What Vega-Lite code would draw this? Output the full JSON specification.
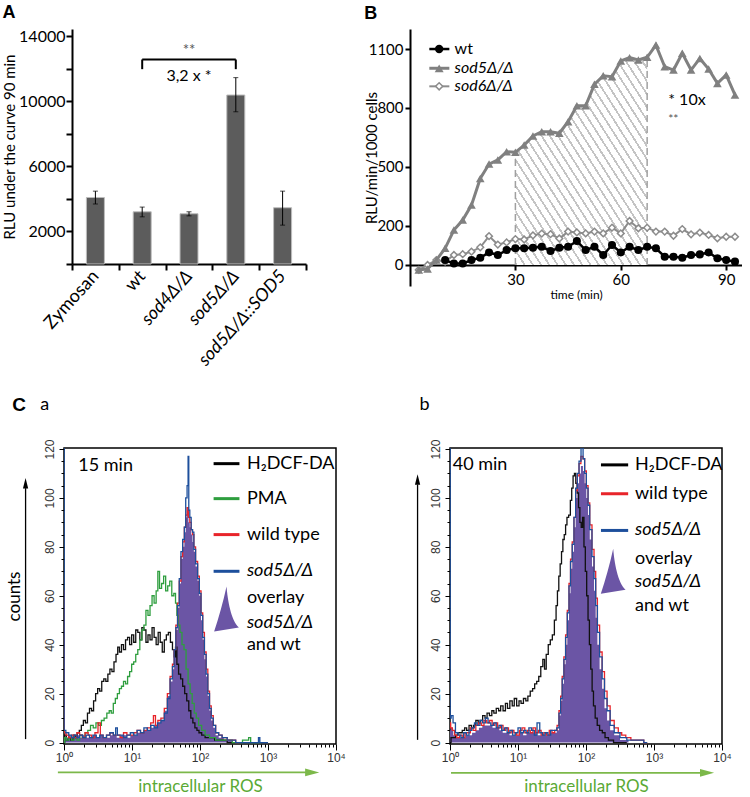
{
"$schema":"https://vega.github.io/schema/vega-lite/v6.json",
"background":"white",
"padding":{"left":2,"top":4,"right":0,"bottom":0},
"config":{"font":"Lato","view":{"stroke":null},"axis":{"grid":false,"labelColor":"black","titleColor":"black","tickColor":"black","domainColor":"black","labelFont":"Lato","titleFont":"Lato","titleFontWeight":"normal","labelFlush":false,"labelOverlap":false},"title":{"font":"Liberation Sans","fontWeight":"bold","fontSize":18,"anchor":"start","frame":"bounds","color":"black"}},
"datasets":{
"bars":[{"cond":"Zymosan","mean":4090,"lo":3690,"hi":4480},{"cond":"wt","mean":3210,"lo":2900,"hi":3500},{"cond":"sod4Δ/Δ","mean":3090,"lo":2960,"hi":3210},{"cond":"sod5Δ/Δ","mean":10390,"lo":9360,"hi":11460},{"cond":"sod5Δ/Δ::SOD5","mean":3460,"lo":2390,"hi":4480}],
"ts":[
{"series":"sod5","t":2.5,"v":-25},{"series":"sod5","t":5,"v":-20},{"series":"sod5","t":7.5,"v":25},{"series":"sod5","t":10,"v":85},{"series":"sod5","t":12.5,"v":178},{"series":"sod5","t":15,"v":229},{"series":"sod5","t":17.5,"v":305},{"series":"sod5","t":20,"v":441},{"series":"sod5","t":22.5,"v":514},{"series":"sod5","t":25,"v":535},{"series":"sod5","t":27.5,"v":577},{"series":"sod5","t":30,"v":574},{"series":"sod5","t":32.5,"v":611},{"series":"sod5","t":35,"v":657},{"series":"sod5","t":37.5,"v":679},{"series":"sod5","t":40,"v":679},{"series":"sod5","t":42.5,"v":671},{"series":"sod5","t":45,"v":730},{"series":"sod5","t":47.5,"v":811},{"series":"sod5","t":50,"v":811},{"series":"sod5","t":52.5,"v":920},{"series":"sod5","t":55,"v":964},{"series":"sod5","t":57.5,"v":959},{"series":"sod5","t":60,"v":1039},{"series":"sod5","t":62.5,"v":1056},{"series":"sod5","t":65,"v":1044},{"series":"sod5","t":67.5,"v":1058},{"series":"sod5","t":70,"v":1120},{"series":"sod5","t":72.5,"v":1010},{"series":"sod5","t":75,"v":993},{"series":"sod5","t":77.5,"v":1078},{"series":"sod5","t":80,"v":993},{"series":"sod5","t":82.5,"v":1052},{"series":"sod5","t":85,"v":998},{"series":"sod5","t":87.5,"v":925},{"series":"sod5","t":90,"v":968},{"series":"sod5","t":92.5,"v":866},
{"series":"sod6","t":2.5,"v":-25},{"series":"sod6","t":5,"v":0},{"series":"sod6","t":7.5,"v":25},{"series":"sod6","t":10,"v":17},{"series":"sod6","t":12.5,"v":51},{"series":"sod6","t":15,"v":55},{"series":"sod6","t":17.5,"v":68},{"series":"sod6","t":20,"v":90},{"series":"sod6","t":22.5,"v":147},{"series":"sod6","t":25,"v":104},{"series":"sod6","t":27.5,"v":115},{"series":"sod6","t":30,"v":132},{"series":"sod6","t":32.5,"v":130},{"series":"sod6","t":35,"v":151},{"series":"sod6","t":37.5,"v":160},{"series":"sod6","t":40,"v":157},{"series":"sod6","t":42.5,"v":135},{"series":"sod6","t":45,"v":170},{"series":"sod6","t":47.5,"v":166},{"series":"sod6","t":50,"v":161},{"series":"sod6","t":52.5,"v":170},{"series":"sod6","t":55,"v":161},{"series":"sod6","t":57.5,"v":190},{"series":"sod6","t":60,"v":161},{"series":"sod6","t":62.5,"v":224},{"series":"sod6","t":65,"v":187},{"series":"sod6","t":67.5,"v":190},{"series":"sod6","t":70,"v":170},{"series":"sod6","t":72.5,"v":170},{"series":"sod6","t":75,"v":149},{"series":"sod6","t":77.5,"v":183},{"series":"sod6","t":80,"v":156},{"series":"sod6","t":82.5,"v":165},{"series":"sod6","t":85,"v":153},{"series":"sod6","t":87.5,"v":136},{"series":"sod6","t":90,"v":144},{"series":"sod6","t":92.5,"v":144},
{"series":"wt","t":10,"v":25},{"series":"wt","t":12.5,"v":8},{"series":"wt","t":15,"v":8},{"series":"wt","t":17.5,"v":25},{"series":"wt","t":20,"v":37},{"series":"wt","t":22.5,"v":64},{"series":"wt","t":25,"v":51},{"series":"wt","t":27.5,"v":76},{"series":"wt","t":30,"v":85},{"series":"wt","t":32.5,"v":85},{"series":"wt","t":35,"v":88},{"series":"wt","t":37.5,"v":93},{"series":"wt","t":40,"v":71},{"series":"wt","t":42.5,"v":88},{"series":"wt","t":45,"v":93},{"series":"wt","t":47.5,"v":122},{"series":"wt","t":50,"v":76},{"series":"wt","t":52.5,"v":93},{"series":"wt","t":55,"v":51},{"series":"wt","t":57.5,"v":102},{"series":"wt","t":60,"v":64},{"series":"wt","t":62.5,"v":93},{"series":"wt","t":65,"v":76},{"series":"wt","t":67.5,"v":93},{"series":"wt","t":70,"v":85},{"series":"wt","t":72.5,"v":42},{"series":"wt","t":75,"v":42},{"series":"wt","t":77.5,"v":37},{"series":"wt","t":80,"v":51},{"series":"wt","t":82.5,"v":54},{"series":"wt","t":85,"v":64},{"series":"wt","t":87.5,"v":34},{"series":"wt","t":90,"v":25},{"series":"wt","t":92.5,"v":17}
],
"aH":[{"L":0,"c":0},{"L":0.02,"c":3},{"L":0.05,"c":1},{"L":0.08,"c":2},{"L":0.12,"c":1},{"L":0.15,"c":3},{"L":0.18,"c":2},{"L":0.21,"c":4},{"L":0.24,"c":5},{"L":0.27,"c":7},{"L":0.3,"c":9},{"L":0.33,"c":8},{"L":0.36,"c":12},{"L":0.39,"c":14},{"L":0.42,"c":13},{"L":0.45,"c":17},{"L":0.48,"c":20},{"L":0.51,"c":22},{"L":0.54,"c":21},{"L":0.57,"c":25},{"L":0.6,"c":26},{"L":0.63,"c":25},{"L":0.66,"c":28},{"L":0.69,"c":30},{"L":0.72,"c":29},{"L":0.75,"c":33},{"L":0.78,"c":36},{"L":0.8,"c":39},{"L":0.83,"c":37},{"L":0.86,"c":40},{"L":0.89,"c":38},{"L":0.92,"c":42},{"L":0.95,"c":43},{"L":0.98,"c":40},{"L":1.01,"c":44},{"L":1.04,"c":41},{"L":1.07,"c":46},{"L":1.1,"c":45},{"L":1.13,"c":42},{"L":1.16,"c":47},{"L":1.19,"c":46},{"L":1.22,"c":41},{"L":1.25,"c":44},{"L":1.28,"c":42},{"L":1.31,"c":47},{"L":1.34,"c":43},{"L":1.37,"c":40},{"L":1.4,"c":45},{"L":1.43,"c":41},{"L":1.46,"c":37},{"L":1.49,"c":42},{"L":1.52,"c":44},{"L":1.55,"c":45},{"L":1.58,"c":41},{"L":1.61,"c":38},{"L":1.63,"c":35},{"L":1.65,"c":39},{"L":1.67,"c":32},{"L":1.7,"c":28},{"L":1.73,"c":26},{"L":1.76,"c":23},{"L":1.79,"c":20},{"L":1.82,"c":17},{"L":1.85,"c":13},{"L":1.88,"c":10},{"L":1.91,"c":8},{"L":1.94,"c":6},{"L":1.97,"c":5},{"L":2,"c":4},{"L":2.05,"c":3},{"L":2.1,"c":2},{"L":2.18,"c":2},{"L":2.25,"c":1},{"L":2.35,"c":1},{"L":2.45,"c":0},{"L":2.6,"c":0}],
"aP":[{"L":0,"c":0},{"L":0.02,"c":2},{"L":0.05,"c":1},{"L":0.09,"c":2},{"L":0.13,"c":1},{"L":0.17,"c":2},{"L":0.21,"c":1},{"L":0.25,"c":3},{"L":0.29,"c":2},{"L":0.33,"c":4},{"L":0.37,"c":5},{"L":0.41,"c":7},{"L":0.45,"c":6},{"L":0.49,"c":8},{"L":0.53,"c":7},{"L":0.57,"c":9},{"L":0.61,"c":10},{"L":0.65,"c":12},{"L":0.68,"c":13},{"L":0.71,"c":12},{"L":0.74,"c":16},{"L":0.77,"c":18},{"L":0.8,"c":20},{"L":0.83,"c":22},{"L":0.86,"c":23},{"L":0.89,"c":25},{"L":0.92,"c":24},{"L":0.95,"c":27},{"L":0.98,"c":29},{"L":1.01,"c":32},{"L":1.04,"c":33},{"L":1.07,"c":36},{"L":1.1,"c":38},{"L":1.13,"c":42},{"L":1.16,"c":46},{"L":1.19,"c":48},{"L":1.22,"c":54},{"L":1.25,"c":52},{"L":1.28,"c":56},{"L":1.31,"c":60},{"L":1.34,"c":57},{"L":1.37,"c":62},{"L":1.39,"c":70},{"L":1.42,"c":63},{"L":1.45,"c":65},{"L":1.48,"c":68},{"L":1.51,"c":62},{"L":1.54,"c":64},{"L":1.57,"c":66},{"L":1.6,"c":60},{"L":1.63,"c":61},{"L":1.65,"c":57},{"L":1.67,"c":52},{"L":1.69,"c":48},{"L":1.72,"c":45},{"L":1.75,"c":40},{"L":1.78,"c":38},{"L":1.81,"c":30},{"L":1.84,"c":24},{"L":1.87,"c":20},{"L":1.9,"c":16},{"L":1.93,"c":12},{"L":1.96,"c":10},{"L":2,"c":7},{"L":2.05,"c":5},{"L":2.1,"c":3},{"L":2.18,"c":2},{"L":2.28,"c":1},{"L":2.4,"c":1},{"L":2.55,"c":0},{"L":2.7,"c":1},{"L":2.73,"c":2},{"L":2.76,"c":0},{"L":2.9,"c":0}],
"aO":[{"L":0,"c":3},{"L":0.04,"c":2},{"L":0.08,"c":3},{"L":0.12,"c":2},{"L":0.16,"c":2},{"L":0.2,"c":3},{"L":0.25,"c":2},{"L":0.3,"c":3},{"L":0.35,"c":2},{"L":0.4,"c":2},{"L":0.45,"c":3},{"L":0.5,"c":2},{"L":0.55,"c":3},{"L":0.6,"c":2},{"L":0.65,"c":2},{"L":0.7,"c":3},{"L":0.75,"c":3},{"L":0.8,"c":2},{"L":0.85,"c":3},{"L":0.9,"c":3},{"L":0.95,"c":2},{"L":1,"c":3},{"L":1.05,"c":3},{"L":1.1,"c":4},{"L":1.15,"c":4},{"L":1.2,"c":5},{"L":1.25,"c":5},{"L":1.3,"c":6},{"L":1.35,"c":7},{"L":1.4,"c":8},{"L":1.45,"c":9},{"L":1.5,"c":13},{"L":1.54,"c":19},{"L":1.58,"c":25},{"L":1.61,"c":30},{"L":1.63,"c":37},{"L":1.66,"c":46},{"L":1.68,"c":55},{"L":1.71,"c":65},{"L":1.73,"c":75},{"L":1.76,"c":80},{"L":1.78,"c":86},{"L":1.8,"c":92},{"L":1.82,"c":95},{"L":1.84,"c":90},{"L":1.86,"c":88},{"L":1.88,"c":85},{"L":1.9,"c":82},{"L":1.92,"c":78},{"L":1.95,"c":72},{"L":1.98,"c":66},{"L":2,"c":60},{"L":2.03,"c":50},{"L":2.05,"c":42},{"L":2.08,"c":34},{"L":2.1,"c":27},{"L":2.13,"c":19},{"L":2.15,"c":13},{"L":2.18,"c":9},{"L":2.21,"c":6},{"L":2.25,"c":3},{"L":2.3,"c":2},{"L":2.4,"c":1},{"L":2.55,"c":0}],
"aW":[{"L":0,"c":62},{"L":0.01,"c":4},{"L":0.05,"c":3},{"L":0.09,"c":2},{"L":0.13,"c":3},{"L":0.17,"c":2},{"L":0.21,"c":4},{"L":0.25,"c":3},{"L":0.29,"c":2},{"L":0.33,"c":4},{"L":0.38,"c":3},{"L":0.43,"c":2},{"L":0.48,"c":4},{"L":0.52,"c":8},{"L":0.55,"c":3},{"L":0.6,"c":2},{"L":0.65,"c":3},{"L":0.7,"c":4},{"L":0.75,"c":3},{"L":0.8,"c":3},{"L":0.85,"c":2},{"L":0.9,"c":4},{"L":0.95,"c":3},{"L":1,"c":3},{"L":1.05,"c":4},{"L":1.1,"c":5},{"L":1.15,"c":4},{"L":1.2,"c":5},{"L":1.25,"c":6},{"L":1.3,"c":8},{"L":1.33,"c":11},{"L":1.36,"c":7},{"L":1.4,"c":9},{"L":1.45,"c":10},{"L":1.5,"c":14},{"L":1.54,"c":20},{"L":1.58,"c":27},{"L":1.61,"c":32},{"L":1.63,"c":38},{"L":1.66,"c":48},{"L":1.68,"c":57},{"L":1.71,"c":66},{"L":1.73,"c":76},{"L":1.76,"c":82},{"L":1.78,"c":88},{"L":1.8,"c":93},{"L":1.82,"c":96},{"L":1.84,"c":92},{"L":1.86,"c":90},{"L":1.88,"c":87},{"L":1.9,"c":85},{"L":1.92,"c":80},{"L":1.95,"c":74},{"L":1.98,"c":68},{"L":2,"c":62},{"L":2.03,"c":53},{"L":2.05,"c":45},{"L":2.08,"c":37},{"L":2.1,"c":30},{"L":2.13,"c":21},{"L":2.15,"c":15},{"L":2.18,"c":11},{"L":2.21,"c":7},{"L":2.25,"c":4},{"L":2.3,"c":3},{"L":2.35,"c":2},{"L":2.45,"c":1},{"L":2.6,"c":0}],
"aS":[{"L":0,"c":130},{"L":0.005,"c":5},{"L":0.05,"c":4},{"L":0.09,"c":3},{"L":0.13,"c":2},{"L":0.17,"c":3},{"L":0.21,"c":2},{"L":0.25,"c":3},{"L":0.3,"c":2},{"L":0.35,"c":3},{"L":0.4,"c":2},{"L":0.45,"c":3},{"L":0.5,"c":2},{"L":0.55,"c":3},{"L":0.6,"c":2},{"L":0.65,"c":3},{"L":0.7,"c":4},{"L":0.75,"c":3},{"L":0.77,"c":6},{"L":0.8,"c":3},{"L":0.85,"c":3},{"L":0.9,"c":2},{"L":0.95,"c":3},{"L":1,"c":4},{"L":1.05,"c":3},{"L":1.1,"c":5},{"L":1.15,"c":4},{"L":1.2,"c":6},{"L":1.25,"c":5},{"L":1.3,"c":7},{"L":1.35,"c":6},{"L":1.4,"c":8},{"L":1.45,"c":9},{"L":1.5,"c":12},{"L":1.54,"c":18},{"L":1.58,"c":26},{"L":1.61,"c":31},{"L":1.63,"c":38},{"L":1.66,"c":47},{"L":1.68,"c":56},{"L":1.71,"c":67},{"L":1.73,"c":78},{"L":1.76,"c":83},{"L":1.78,"c":88},{"L":1.8,"c":100},{"L":1.82,"c":105},{"L":1.83,"c":117},{"L":1.84,"c":95},{"L":1.86,"c":92},{"L":1.88,"c":87},{"L":1.9,"c":86},{"L":1.92,"c":79},{"L":1.95,"c":73},{"L":1.98,"c":67},{"L":2,"c":61},{"L":2.03,"c":52},{"L":2.05,"c":43},{"L":2.08,"c":36},{"L":2.1,"c":28},{"L":2.13,"c":20},{"L":2.15,"c":14},{"L":2.18,"c":10},{"L":2.21,"c":7},{"L":2.25,"c":4},{"L":2.3,"c":3},{"L":2.35,"c":2},{"L":2.45,"c":1},{"L":2.6,"c":0},{"L":2.85,"c":0},{"L":2.87,"c":2},{"L":2.89,"c":0},{"L":3,"c":0}],
"bH":[{"L":0,"c":0},{"L":0.03,"c":2},{"L":0.065,"c":2},{"L":0.1,"c":3},{"L":0.13,"c":4},{"L":0.16,"c":4},{"L":0.2,"c":5},{"L":0.23,"c":6},{"L":0.26,"c":5},{"L":0.3,"c":7},{"L":0.33,"c":6},{"L":0.36,"c":7},{"L":0.4,"c":9},{"L":0.43,"c":8},{"L":0.46,"c":9},{"L":0.5,"c":11},{"L":0.53,"c":10},{"L":0.56,"c":12},{"L":0.6,"c":11},{"L":0.63,"c":13},{"L":0.66,"c":12},{"L":0.7,"c":14},{"L":0.73,"c":13},{"L":0.76,"c":15},{"L":0.8,"c":13},{"L":0.83,"c":16},{"L":0.86,"c":14},{"L":0.9,"c":17},{"L":0.93,"c":15},{"L":0.96,"c":18},{"L":1,"c":15},{"L":1.03,"c":17},{"L":1.06,"c":16},{"L":1.1,"c":18},{"L":1.13,"c":17},{"L":1.16,"c":19},{"L":1.2,"c":21},{"L":1.23,"c":22},{"L":1.26,"c":24},{"L":1.29,"c":25},{"L":1.32,"c":27},{"L":1.35,"c":31},{"L":1.38,"c":34},{"L":1.4,"c":30},{"L":1.43,"c":36},{"L":1.46,"c":40},{"L":1.49,"c":42},{"L":1.52,"c":44},{"L":1.55,"c":50},{"L":1.57,"c":56},{"L":1.59,"c":62},{"L":1.61,"c":68},{"L":1.63,"c":73},{"L":1.65,"c":78},{"L":1.67,"c":83},{"L":1.69,"c":85},{"L":1.71,"c":89},{"L":1.73,"c":92},{"L":1.76,"c":93},{"L":1.78,"c":99},{"L":1.8,"c":104},{"L":1.82,"c":109},{"L":1.84,"c":110},{"L":1.86,"c":106},{"L":1.88,"c":102},{"L":1.9,"c":96},{"L":1.92,"c":90},{"L":1.94,"c":88},{"L":1.96,"c":92},{"L":1.98,"c":80},{"L":2,"c":70},{"L":2.02,"c":60},{"L":2.04,"c":50},{"L":2.06,"c":40},{"L":2.08,"c":30},{"L":2.1,"c":21},{"L":2.12,"c":15},{"L":2.15,"c":10},{"L":2.18,"c":7},{"L":2.22,"c":5},{"L":2.26,"c":4},{"L":2.3,"c":2},{"L":2.36,"c":1},{"L":2.45,"c":0},{"L":2.6,"c":0}],
"bO":[{"L":0,"c":5},{"L":0.03,"c":6},{"L":0.06,"c":3},{"L":0.1,"c":2},{"L":0.15,"c":2},{"L":0.2,"c":2},{"L":0.25,"c":3},{"L":0.3,"c":3},{"L":0.35,"c":4},{"L":0.4,"c":5},{"L":0.45,"c":6},{"L":0.5,"c":7},{"L":0.55,"c":7},{"L":0.6,"c":7},{"L":0.65,"c":6},{"L":0.7,"c":6},{"L":0.75,"c":5},{"L":0.8,"c":4},{"L":0.85,"c":4},{"L":0.9,"c":3},{"L":0.95,"c":3},{"L":1,"c":3},{"L":1.05,"c":4},{"L":1.1,"c":3},{"L":1.15,"c":4},{"L":1.2,"c":4},{"L":1.25,"c":4},{"L":1.3,"c":3},{"L":1.35,"c":3},{"L":1.4,"c":3},{"L":1.45,"c":3},{"L":1.5,"c":4},{"L":1.55,"c":4},{"L":1.59,"c":5},{"L":1.615,"c":11},{"L":1.64,"c":17},{"L":1.66,"c":24},{"L":1.69,"c":32},{"L":1.71,"c":40},{"L":1.74,"c":50},{"L":1.76,"c":61},{"L":1.785,"c":71},{"L":1.81,"c":78},{"L":1.836,"c":88},{"L":1.86,"c":100},{"L":1.885,"c":106},{"L":1.91,"c":110},{"L":1.94,"c":113},{"L":1.97,"c":111},{"L":1.99,"c":106},{"L":2.02,"c":100},{"L":2.04,"c":93},{"L":2.07,"c":83},{"L":2.106,"c":72},{"L":2.13,"c":62},{"L":2.155,"c":51},{"L":2.18,"c":40},{"L":2.22,"c":30},{"L":2.254,"c":22},{"L":2.29,"c":14},{"L":2.33,"c":9},{"L":2.38,"c":5},{"L":2.45,"c":3},{"L":2.55,"c":1},{"L":2.7,"c":0}],
"bW":[{"L":0,"c":8},{"L":0.02,"c":6},{"L":0.05,"c":5},{"L":0.08,"c":3},{"L":0.12,"c":2},{"L":0.16,"c":3},{"L":0.2,"c":2},{"L":0.24,"c":4},{"L":0.28,"c":4},{"L":0.32,"c":6},{"L":0.36,"c":5},{"L":0.4,"c":7},{"L":0.44,"c":8},{"L":0.48,"c":7},{"L":0.52,"c":9},{"L":0.56,"c":8},{"L":0.6,"c":9},{"L":0.64,"c":7},{"L":0.68,"c":8},{"L":0.72,"c":6},{"L":0.76,"c":7},{"L":0.8,"c":5},{"L":0.84,"c":6},{"L":0.88,"c":4},{"L":0.92,"c":5},{"L":0.96,"c":4},{"L":1,"c":3},{"L":1.04,"c":5},{"L":1.08,"c":6},{"L":1.12,"c":4},{"L":1.16,"c":5},{"L":1.2,"c":4},{"L":1.24,"c":6},{"L":1.28,"c":4},{"L":1.32,"c":5},{"L":1.36,"c":3},{"L":1.4,"c":4},{"L":1.44,"c":3},{"L":1.48,"c":5},{"L":1.52,"c":4},{"L":1.56,"c":5},{"L":1.59,"c":7},{"L":1.615,"c":13},{"L":1.64,"c":19},{"L":1.66,"c":27},{"L":1.69,"c":35},{"L":1.71,"c":44},{"L":1.74,"c":54},{"L":1.76,"c":65},{"L":1.785,"c":75},{"L":1.81,"c":82},{"L":1.836,"c":92},{"L":1.86,"c":103},{"L":1.885,"c":109},{"L":1.91,"c":114},{"L":1.94,"c":117},{"L":1.97,"c":116},{"L":1.99,"c":111},{"L":2.02,"c":105},{"L":2.04,"c":98},{"L":2.07,"c":89},{"L":2.106,"c":79},{"L":2.13,"c":70},{"L":2.155,"c":59},{"L":2.18,"c":48},{"L":2.22,"c":37},{"L":2.254,"c":29},{"L":2.29,"c":21},{"L":2.33,"c":15},{"L":2.38,"c":9},{"L":2.45,"c":6},{"L":2.5,"c":4},{"L":2.55,"c":3},{"L":2.62,"c":2},{"L":2.7,"c":1},{"L":2.8,"c":1},{"L":2.9,"c":0}],
"bS":[{"L":0,"c":130},{"L":0.005,"c":10},{"L":0.03,"c":11},{"L":0.06,"c":8},{"L":0.1,"c":4},{"L":0.14,"c":3},{"L":0.18,"c":2},{"L":0.22,"c":4},{"L":0.26,"c":3},{"L":0.3,"c":5},{"L":0.34,"c":6},{"L":0.38,"c":8},{"L":0.42,"c":7},{"L":0.46,"c":9},{"L":0.5,"c":8},{"L":0.54,"c":10},{"L":0.58,"c":8},{"L":0.62,"c":7},{"L":0.66,"c":8},{"L":0.7,"c":6},{"L":0.74,"c":7},{"L":0.78,"c":5},{"L":0.82,"c":6},{"L":0.86,"c":4},{"L":0.9,"c":5},{"L":0.94,"c":3},{"L":0.98,"c":4},{"L":1.02,"c":6},{"L":1.06,"c":4},{"L":1.1,"c":5},{"L":1.14,"c":4},{"L":1.18,"c":6},{"L":1.22,"c":5},{"L":1.26,"c":3},{"L":1.3,"c":8},{"L":1.34,"c":4},{"L":1.38,"c":3},{"L":1.42,"c":4},{"L":1.46,"c":3},{"L":1.5,"c":5},{"L":1.55,"c":5},{"L":1.59,"c":6},{"L":1.615,"c":12},{"L":1.64,"c":18},{"L":1.66,"c":26},{"L":1.69,"c":34},{"L":1.71,"c":43},{"L":1.74,"c":53},{"L":1.76,"c":64},{"L":1.785,"c":74},{"L":1.81,"c":81},{"L":1.836,"c":92},{"L":1.86,"c":104},{"L":1.885,"c":110},{"L":1.91,"c":115},{"L":1.944,"c":121},{"L":1.97,"c":116},{"L":1.99,"c":110},{"L":2.02,"c":104},{"L":2.04,"c":97},{"L":2.07,"c":87},{"L":2.106,"c":76},{"L":2.13,"c":67},{"L":2.155,"c":56},{"L":2.18,"c":45},{"L":2.22,"c":35},{"L":2.254,"c":26},{"L":2.29,"c":18},{"L":2.33,"c":13},{"L":2.38,"c":7},{"L":2.45,"c":4},{"L":2.55,"c":2},{"L":2.65,"c":1},{"L":2.8,"c":1},{"L":2.9,"c":0}]
},
"columns":1,
"align":"none",
"spacing":26,
"concat":[
{"spacing":57,"hconcat":[
{"title":{"text":"A","offset":6},"width":242,"height":235,
"layer":[
{"data":{"name":"bars"},"mark":{"type":"bar","size":18,"color":"#5c5c5c","stroke":"#bdbdbd","strokeWidth":1},
"encoding":{"x":{"field":"cond","type":"nominal","sort":null,"scale":{"domain":["Zymosan","wt","sod4Δ/Δ","sod5Δ/Δ","sod5Δ/Δ::SOD5"],"range":[8,242],"paddingInner":0,"paddingOuter":0},"axis":{"title":null,"labelAngle":-48,"labelFontSize":18,"labelOverlap":false,"tickBand":"extent","tickSize":6,"tickWidth":2,"domainWidth":2,"labelPadding":3,"labelFontStyle":{"condition":{"test":"indexof(datum.label,'sod')>=0","value":"italic"},"value":"normal"}}},
"y":{"field":"mean","type":"quantitative","scale":{"domain":[0,14450],"nice":false},"axis":{"title":"RLU under the curve 90 min","titleFontSize":15,"titlePadding":1,"offset":-8,"values":[0,2000,4000,6000,8000,10000,12000,14000],"tickCount":100,"format":"d","labelOverlap":false,"labelExpr":"datum.value % 4000 == 2000 ? datum.label : ''","labelFontSize":16,"tickSize":6,"tickWidth":2,"domainWidth":2,"labelPadding":1}}}},
{"data":{"name":"bars"},"mark":{"type":"rule","color":"black","strokeWidth":1},"encoding":{"x":{"field":"cond","type":"nominal","sort":null},"y":{"field":"lo","type":"quantitative"},"y2":{"field":"hi"}}},
{"data":{"name":"bars"},"mark":{"type":"tick","color":"black","thickness":1,"size":5},"encoding":{"x":{"field":"cond","type":"nominal","sort":null},"y":{"field":"lo","type":"quantitative"}}},
{"data":{"name":"bars"},"mark":{"type":"tick","color":"black","thickness":1,"size":5},"encoding":{"x":{"field":"cond","type":"nominal","sort":null},"y":{"field":"hi","type":"quantitative"}}},
{"data":{"values":[{}]},"mark":{"type":"rule","color":"black","strokeWidth":2},"encoding":{"x":{"datum":"wt","type":"nominal"},"x2":{"datum":"sod5Δ/Δ"},"y":{"datum":12575,"type":"quantitative"}}},
{"data":{"values":[{}]},"mark":{"type":"rule","color":"black","strokeWidth":2},"encoding":{"x":{"datum":"wt","type":"nominal"},"y":{"datum":11980,"type":"quantitative"},"y2":{"datum":12575}}},
{"data":{"values":[{}]},"mark":{"type":"rule","color":"black","strokeWidth":2},"encoding":{"x":{"datum":"sod5Δ/Δ","type":"nominal"},"y":{"datum":11980,"type":"quantitative"},"y2":{"datum":12575}}},
{"data":{"values":[{}]},"mark":{"type":"text","fontSize":15,"color":"#555555","baseline":"middle"},"encoding":{"x":{"datum":"sod4Δ/Δ","type":"nominal"},"y":{"datum":13150,"type":"quantitative"},"text":{"value":"**"}}},
{"data":{"values":[{}]},"mark":{"type":"text","fontSize":16,"color":"black","baseline":"middle"},"encoding":{"x":{"datum":"sod4Δ/Δ","type":"nominal"},"y":{"datum":11590,"type":"quantitative"},"text":{"value":"3,2 x *"}}}
]},
{"title":{"text":"B","offset":6},"width":332,"height":257,
"layer":[
{"data":{"name":"ts"},"transform":[{"filter":"datum.series == 'sod5' && datum.t >= 30 && datum.t <= 67.5"}],
"mark":{"type":"area","color":{"gradient":"linear","x1":0,"y1":1,"x2":1,"y2":0,"stops":[
{"offset":0,"color":"#c4c4c4"},{"offset":0.008,"color":"#c4c4c4"},{"offset":0.008,"color":"#ffffff"},
{"offset":0.03125,"color":"#ffffff"},{"offset":0.03125,"color":"#c4c4c4"},{"offset":0.03925,"color":"#c4c4c4"},{"offset":0.03925,"color":"#ffffff"},
{"offset":0.0625,"color":"#ffffff"},{"offset":0.0625,"color":"#c4c4c4"},{"offset":0.0705,"color":"#c4c4c4"},{"offset":0.0705,"color":"#ffffff"},
{"offset":0.09375,"color":"#ffffff"},{"offset":0.09375,"color":"#c4c4c4"},{"offset":0.10175,"color":"#c4c4c4"},{"offset":0.10175,"color":"#ffffff"},
{"offset":0.125,"color":"#ffffff"},{"offset":0.125,"color":"#c4c4c4"},{"offset":0.133,"color":"#c4c4c4"},{"offset":0.133,"color":"#ffffff"},
{"offset":0.15625,"color":"#ffffff"},{"offset":0.15625,"color":"#c4c4c4"},{"offset":0.16425,"color":"#c4c4c4"},{"offset":0.16425,"color":"#ffffff"},
{"offset":0.1875,"color":"#ffffff"},{"offset":0.1875,"color":"#c4c4c4"},{"offset":0.1955,"color":"#c4c4c4"},{"offset":0.1955,"color":"#ffffff"},
{"offset":0.21875,"color":"#ffffff"},{"offset":0.21875,"color":"#c4c4c4"},{"offset":0.22675,"color":"#c4c4c4"},{"offset":0.22675,"color":"#ffffff"},
{"offset":0.25,"color":"#ffffff"},{"offset":0.25,"color":"#c4c4c4"},{"offset":0.258,"color":"#c4c4c4"},{"offset":0.258,"color":"#ffffff"},
{"offset":0.28125,"color":"#ffffff"},{"offset":0.28125,"color":"#c4c4c4"},{"offset":0.28925,"color":"#c4c4c4"},{"offset":0.28925,"color":"#ffffff"},
{"offset":0.3125,"color":"#ffffff"},{"offset":0.3125,"color":"#c4c4c4"},{"offset":0.3205,"color":"#c4c4c4"},{"offset":0.3205,"color":"#ffffff"},
{"offset":0.34375,"color":"#ffffff"},{"offset":0.34375,"color":"#c4c4c4"},{"offset":0.35175,"color":"#c4c4c4"},{"offset":0.35175,"color":"#ffffff"},
{"offset":0.375,"color":"#ffffff"},{"offset":0.375,"color":"#c4c4c4"},{"offset":0.383,"color":"#c4c4c4"},{"offset":0.383,"color":"#ffffff"},
{"offset":0.40625,"color":"#ffffff"},{"offset":0.40625,"color":"#c4c4c4"},{"offset":0.41425,"color":"#c4c4c4"},{"offset":0.41425,"color":"#ffffff"},
{"offset":0.4375,"color":"#ffffff"},{"offset":0.4375,"color":"#c4c4c4"},{"offset":0.4455,"color":"#c4c4c4"},{"offset":0.4455,"color":"#ffffff"},
{"offset":0.46875,"color":"#ffffff"},{"offset":0.46875,"color":"#c4c4c4"},{"offset":0.47675,"color":"#c4c4c4"},{"offset":0.47675,"color":"#ffffff"},
{"offset":0.5,"color":"#ffffff"},{"offset":0.5,"color":"#c4c4c4"},{"offset":0.508,"color":"#c4c4c4"},{"offset":0.508,"color":"#ffffff"},
{"offset":0.53125,"color":"#ffffff"},{"offset":0.53125,"color":"#c4c4c4"},{"offset":0.53925,"color":"#c4c4c4"},{"offset":0.53925,"color":"#ffffff"},
{"offset":0.5625,"color":"#ffffff"},{"offset":0.5625,"color":"#c4c4c4"},{"offset":0.5705,"color":"#c4c4c4"},{"offset":0.5705,"color":"#ffffff"},
{"offset":0.59375,"color":"#ffffff"},{"offset":0.59375,"color":"#c4c4c4"},{"offset":0.60175,"color":"#c4c4c4"},{"offset":0.60175,"color":"#ffffff"},
{"offset":0.625,"color":"#ffffff"},{"offset":0.625,"color":"#c4c4c4"},{"offset":0.633,"color":"#c4c4c4"},{"offset":0.633,"color":"#ffffff"},
{"offset":0.65625,"color":"#ffffff"},{"offset":0.65625,"color":"#c4c4c4"},{"offset":0.66425,"color":"#c4c4c4"},{"offset":0.66425,"color":"#ffffff"},
{"offset":0.6875,"color":"#ffffff"},{"offset":0.6875,"color":"#c4c4c4"},{"offset":0.6955,"color":"#c4c4c4"},{"offset":0.6955,"color":"#ffffff"},
{"offset":0.71875,"color":"#ffffff"},{"offset":0.71875,"color":"#c4c4c4"},{"offset":0.72675,"color":"#c4c4c4"},{"offset":0.72675,"color":"#ffffff"},
{"offset":0.75,"color":"#ffffff"},{"offset":0.75,"color":"#c4c4c4"},{"offset":0.758,"color":"#c4c4c4"},{"offset":0.758,"color":"#ffffff"},
{"offset":0.78125,"color":"#ffffff"},{"offset":0.78125,"color":"#c4c4c4"},{"offset":0.78925,"color":"#c4c4c4"},{"offset":0.78925,"color":"#ffffff"},
{"offset":0.8125,"color":"#ffffff"},{"offset":0.8125,"color":"#c4c4c4"},{"offset":0.8205,"color":"#c4c4c4"},{"offset":0.8205,"color":"#ffffff"},
{"offset":0.84375,"color":"#ffffff"},{"offset":0.84375,"color":"#c4c4c4"},{"offset":0.85175,"color":"#c4c4c4"},{"offset":0.85175,"color":"#ffffff"},
{"offset":0.875,"color":"#ffffff"},{"offset":0.875,"color":"#c4c4c4"},{"offset":0.883,"color":"#c4c4c4"},{"offset":0.883,"color":"#ffffff"},
{"offset":0.90625,"color":"#ffffff"},{"offset":0.90625,"color":"#c4c4c4"},{"offset":0.91425,"color":"#c4c4c4"},{"offset":0.91425,"color":"#ffffff"},
{"offset":0.9375,"color":"#ffffff"},{"offset":0.9375,"color":"#c4c4c4"},{"offset":0.9455,"color":"#c4c4c4"},{"offset":0.9455,"color":"#ffffff"},
{"offset":0.96875,"color":"#ffffff"},{"offset":0.96875,"color":"#c4c4c4"},{"offset":0.97675,"color":"#c4c4c4"},{"offset":0.97675,"color":"#ffffff"},
{"offset":1,"color":"#ffffff"}]}},
"encoding":{"x":{"field":"t","type":"quantitative","scale":{"domain":[0,94.5],"nice":false},"axis":{"title":"time (min)","titleFontSize":12,"titlePadding":2,"values":[30,60,90],"tickCount":100,"labelOverlap":false,"offset":-21,"labelFontSize":15,"tickSize":5,"tickWidth":2,"domainWidth":2,"labelPadding":2}},
"y":{"field":"v","type":"quantitative","scale":{"domain":[-107,1202],"nice":false},"axis":{"title":"RLU/min/1000 cells","titleFontSize":15,"titlePadding":-11,"values":[0,200,500,800,1100],"tickCount":100,"format":"d","labelOverlap":false,"labelFontSize":15,"tickSize":5,"tickWidth":2,"domainWidth":2,"labelPadding":2}},
"y2":{"datum":0}}},
{"data":{"values":[{}]},"mark":{"type":"rule","color":"#a0a0a0","strokeWidth":1.5,"strokeDash":[7,4]},"encoding":{"x":{"datum":30,"type":"quantitative"},"y":{"datum":0,"type":"quantitative"},"y2":{"datum":574}}},
{"data":{"values":[{}]},"mark":{"type":"rule","color":"#a0a0a0","strokeWidth":1.5,"strokeDash":[7,4]},"encoding":{"x":{"datum":67.5,"type":"quantitative"},"y":{"datum":0,"type":"quantitative"},"y2":{"datum":1058}}},
{"data":{"name":"ts"},"transform":[{"filter":"datum.series == 'sod6'"}],"mark":{"type":"line","color":"#8c8c8c","strokeWidth":2},"encoding":{"x":{"field":"t","type":"quantitative"},"y":{"field":"v","type":"quantitative"}}},
{"data":{"name":"ts"},"transform":[{"filter":"datum.series == 'sod6'"}],"mark":{"type":"point","shape":"diamond","filled":true,"fill":"white","stroke":"#8c8c8c","strokeWidth":1.5,"size":45,"opacity":1},"encoding":{"x":{"field":"t","type":"quantitative"},"y":{"field":"v","type":"quantitative"}}},
{"data":{"name":"ts"},"transform":[{"filter":"datum.series == 'wt'"}],"mark":{"type":"line","color":"black","strokeWidth":2.5},"encoding":{"x":{"field":"t","type":"quantitative"},"y":{"field":"v","type":"quantitative"}}},
{"data":{"name":"ts"},"transform":[{"filter":"datum.series == 'wt'"}],"mark":{"type":"point","shape":"circle","filled":true,"color":"black","size":65,"opacity":1},"encoding":{"x":{"field":"t","type":"quantitative"},"y":{"field":"v","type":"quantitative"}}},
{"data":{"name":"ts"},"transform":[{"filter":"datum.series == 'sod5'"}],"mark":{"type":"line","color":"#808080","strokeWidth":3},"encoding":{"x":{"field":"t","type":"quantitative"},"y":{"field":"v","type":"quantitative"}}},
{"data":{"name":"ts"},"transform":[{"filter":"datum.series == 'sod5'"}],"mark":{"type":"point","shape":"triangle-up","filled":true,"color":"#808080","size":75,"opacity":1},"encoding":{"x":{"field":"t","type":"quantitative"},"y":{"field":"v","type":"quantitative"}}},
{"data":{"values":[{}]},"mark":{"type":"rule","color":"black","strokeWidth":2.5},"encoding":{"x":{"datum":5.5,"type":"quantitative"},"x2":{"datum":11.2},"y":{"datum":1100,"type":"quantitative"}}},
{"data":{"values":[{}]},"mark":{"type":"point","shape":"circle","filled":true,"color":"black","size":70,"opacity":1},"encoding":{"x":{"datum":8.3,"type":"quantitative"},"y":{"datum":1100,"type":"quantitative"}}},
{"data":{"values":[{}]},"mark":{"type":"text","align":"left","baseline":"middle","fontSize":16},"encoding":{"x":{"datum":12.7,"type":"quantitative"},"y":{"datum":1100,"type":"quantitative"},"text":{"value":"wt"}}},
{"data":{"values":[{}]},"mark":{"type":"rule","color":"#808080","strokeWidth":3},"encoding":{"x":{"datum":5.5,"type":"quantitative"},"x2":{"datum":11.2},"y":{"datum":1002,"type":"quantitative"}}},
{"data":{"values":[{}]},"mark":{"type":"point","shape":"triangle-up","filled":true,"color":"#808080","size":80,"opacity":1},"encoding":{"x":{"datum":8.3,"type":"quantitative"},"y":{"datum":1002,"type":"quantitative"}}},
{"data":{"values":[{}]},"mark":{"type":"text","align":"left","baseline":"middle","fontSize":16,"fontStyle":"italic"},"encoding":{"x":{"datum":12.7,"type":"quantitative"},"y":{"datum":1002,"type":"quantitative"},"text":{"value":"sod5Δ/Δ"}}},
{"data":{"values":[{}]},"mark":{"type":"rule","color":"#8c8c8c","strokeWidth":2},"encoding":{"x":{"datum":5.5,"type":"quantitative"},"x2":{"datum":11.2},"y":{"datum":910,"type":"quantitative"}}},
{"data":{"values":[{}]},"mark":{"type":"point","shape":"diamond","filled":true,"fill":"white","stroke":"#8c8c8c","strokeWidth":1.5,"size":50,"opacity":1},"encoding":{"x":{"datum":8.3,"type":"quantitative"},"y":{"datum":910,"type":"quantitative"}}},
{"data":{"values":[{}]},"mark":{"type":"text","align":"left","baseline":"middle","fontSize":16,"fontStyle":"italic"},"encoding":{"x":{"datum":12.7,"type":"quantitative"},"y":{"datum":910,"type":"quantitative"},"text":{"value":"sod6Δ/Δ"}}},
{"data":{"values":[{}]},"mark":{"type":"text","align":"left","baseline":"middle","fontSize":16},"encoding":{"x":{"datum":73.5,"type":"quantitative"},"y":{"datum":840,"type":"quantitative"},"text":{"value":"* 10x"}}},
{"data":{"values":[{}]},"mark":{"type":"text","align":"left","baseline":"middle","fontSize":12,"color":"#555555"},"encoding":{"x":{"datum":73.5,"type":"quantitative"},"y":{"datum":745,"type":"quantitative"},"text":{"value":"**"}}}
]}
]},
{"spacing":67,"hconcat":[
{"width":272,"height":296,"view":{"stroke":"black","strokeWidth":1.5},
"layer":[
{"data":{"name":"aO"},"mark":{"type":"area","interpolate":"step","color":"#6b55a5","clip":true},"encoding":{"x":{"field":"L","type":"quantitative","scale":{"domain":[0,4],"nice":false,"zero":false},"axis":{"title":"intracellular ROS","titleColor":"#5aaa35","titleFontSize":17,"titlePadding":15,"values":[0,0.301,0.477,0.602,0.699,0.778,0.845,0.903,0.954,1,1.301,1.477,1.602,1.699,1.778,1.845,1.903,1.954,2,2.301,2.477,2.602,2.699,2.778,2.845,2.903,2.954,3,3.301,3.477,3.602,3.699,3.778,3.845,3.903,3.954,4],"tickCount":100,"labelOverlap":false,"labelExpr":"datum.value == 0 ? '10⁰' : datum.value == 1 ? '10¹' : datum.value == 2 ? '10²' : datum.value == 3 ? '10³' : datum.value == 4 ? '10⁴' : ''","labelFont":"Liberation Sans Narrow, Liberation Sans, sans-serif","labelFontSize":12,"labelColor":"#333333","tickSize":{"condition":{"test":"datum.value % 1 == 0","value":6},"value":3},"domain":false,"labelPadding":2}},
"y":{"field":"c","type":"quantitative","scale":{"domain":[-0.6,120.4],"nice":false,"zero":false},"axis":{"title":"counts","titleFontSize":17,"titlePadding":20,"values":[0,5,10,15,20,25,30,35,40,45,50,55,60,65,70,75,80,85,90,95,100,105,110,115,120],"tickCount":100,"labelOverlap":false,"labelExpr":"datum.value % 20 == 0 ? datum.label : ''","labelAngle":-90,"labelAlign":"center","labelBaseline":"bottom","labelFont":"Liberation Sans Narrow, Liberation Sans, sans-serif","labelFontSize":12,"labelColor":"#333333","tickSize":{"condition":{"test":"datum.value % 20 == 0","value":5},"value":3},"domain":false,"labelPadding":3}}}},
{"data":{"name":"aH"},"mark":{"type":"line","interpolate":"step","color":"#111111","strokeWidth":1.3,"clip":true},"encoding":{"x":{"field":"L","type":"quantitative"},"y":{"field":"c","type":"quantitative"}}},
{"data":{"name":"aP"},"mark":{"type":"line","interpolate":"step","color":"#2e9e3e","strokeWidth":1.3,"clip":true},"encoding":{"x":{"field":"L","type":"quantitative"},"y":{"field":"c","type":"quantitative"}}},
{"data":{"name":"aW"},"mark":{"type":"line","interpolate":"step","color":"#e8242a","strokeWidth":1.3,"clip":true},"encoding":{"x":{"field":"L","type":"quantitative"},"y":{"field":"c","type":"quantitative"}}},
{"data":{"name":"aS"},"mark":{"type":"line","interpolate":"step","color":"#1d4f9c","strokeWidth":1.3,"clip":true},"encoding":{"x":{"field":"L","type":"quantitative"},"y":{"field":"c","type":"quantitative"}}},
{"data":{"values":[{}]},"mark":{"type":"rule","color":"black","strokeWidth":3},"encoding":{"x":{"datum":2.2,"type":"quantitative"},"x2":{"datum":2.58},"y":{"datum":114,"type":"quantitative"}}},
{"data":{"values":[{}]},"mark":{"type":"rule","color":"#2e9e3e","strokeWidth":3},"encoding":{"x":{"datum":2.2,"type":"quantitative"},"x2":{"datum":2.58},"y":{"datum":99.7,"type":"quantitative"}}},
{"data":{"values":[{}]},"mark":{"type":"rule","color":"#e8242a","strokeWidth":3},"encoding":{"x":{"datum":2.2,"type":"quantitative"},"x2":{"datum":2.58},"y":{"datum":85,"type":"quantitative"}}},
{"data":{"values":[{}]},"mark":{"type":"rule","color":"#1d4f9c","strokeWidth":3},"encoding":{"x":{"datum":2.2,"type":"quantitative"},"x2":{"datum":2.58},"y":{"datum":70,"type":"quantitative"}}},
{"data":{"values":[{}]},"mark":{"type":"text","align":"left","baseline":"middle","fontSize":18},"encoding":{"x":{"datum":2.69,"type":"quantitative"},"y":{"datum":114,"type":"quantitative"},"text":{"value":"H₂DCF-DA"}}},
{"data":{"values":[{}]},"mark":{"type":"text","align":"left","baseline":"middle","fontSize":18},"encoding":{"x":{"datum":2.69,"type":"quantitative"},"y":{"datum":99.7,"type":"quantitative"},"text":{"value":"PMA"}}},
{"data":{"values":[{}]},"mark":{"type":"text","align":"left","baseline":"middle","fontSize":18},"encoding":{"x":{"datum":2.69,"type":"quantitative"},"y":{"datum":85,"type":"quantitative"},"text":{"value":"wild type"}}},
{"data":{"values":[{}]},"mark":{"type":"text","align":"left","baseline":"middle","fontSize":18,"fontStyle":"italic"},"encoding":{"x":{"datum":2.69,"type":"quantitative"},"y":{"datum":70,"type":"quantitative"},"text":{"value":"sod5Δ/Δ"}}},
{"data":{"values":[{}]},"mark":{"type":"text","align":"left","baseline":"middle","fontSize":18},"encoding":{"x":{"datum":2.69,"type":"quantitative"},"y":{"datum":59,"type":"quantitative"},"text":{"value":"overlay"}}},
{"data":{"values":[{}]},"mark":{"type":"text","align":"left","baseline":"middle","fontSize":18,"fontStyle":"italic"},"encoding":{"x":{"datum":2.69,"type":"quantitative"},"y":{"datum":49,"type":"quantitative"},"text":{"value":"sod5Δ/Δ"}}},
{"data":{"values":[{}]},"mark":{"type":"text","align":"left","baseline":"middle","fontSize":18},"encoding":{"x":{"datum":2.69,"type":"quantitative"},"y":{"datum":40,"type":"quantitative"},"text":{"value":"and wt"}}},
{"data":{"values":[{}]},"mark":{"type":"point","shape":"M0,-1 C0.05,-0.4 0.2,0.5 0.55,0.82 L-0.55,1 C-0.35,0.4 -0.15,-0.3 0,-1 Z","filled":true,"color":"#6b55a5","size":2025,"opacity":1},"encoding":{"x":{"datum":2.39,"type":"quantitative"},"y":{"datum":54.6,"type":"quantitative"}}},
{"data":{"values":[{}]},"mark":{"type":"text","align":"left","baseline":"middle","fontSize":18},"encoding":{"x":{"datum":0.21,"type":"quantitative"},"y":{"datum":113,"type":"quantitative"},"text":{"value":"15 min"}}},
{"data":{"values":[{}]},"mark":{"type":"text","align":"left","baseline":"middle","fontSize":19,"font":"Liberation Sans","fontWeight":"bold"},"encoding":{"x":{"datum":-0.76,"type":"quantitative"},"y":{"datum":138,"type":"quantitative"},"text":{"value":"C"}}},
{"data":{"values":[{}]},"mark":{"type":"text","align":"left","baseline":"middle","fontSize":18},"encoding":{"x":{"datum":-0.35,"type":"quantitative"},"y":{"datum":138,"type":"quantitative"},"text":{"value":"a"}}},
{"data":{"values":[{}]},"mark":{"type":"rule","color":"black","strokeWidth":1.3},"encoding":{"x":{"datum":-0.565,"type":"quantitative"},"y":{"datum":1.4,"type":"quantitative"},"y2":{"datum":104}}},
{"data":{"values":[{}]},"mark":{"type":"point","shape":"M-0.5,1L0,-1L0.5,1Z","filled":true,"color":"black","size":110,"opacity":1},"encoding":{"x":{"datum":-0.565,"type":"quantitative"},"y":{"datum":106,"type":"quantitative"}}},
{"data":{"values":[{}]},"mark":{"type":"rule","color":"#7cb84a","strokeWidth":1.6},"encoding":{"x":{"datum":-0.09,"type":"quantitative"},"x2":{"datum":3.6},"y":{"datum":-12.2,"type":"quantitative"}}},
{"data":{"values":[{}]},"mark":{"type":"point","shape":"M-1,-0.55L1,0L-1,0.55Z","filled":true,"color":"#7cb84a","size":200,"opacity":1},"encoding":{"x":{"datum":3.65,"type":"quantitative"},"y":{"datum":-12.2,"type":"quantitative"}}}
]},
{"width":272,"height":296,"view":{"stroke":"black","strokeWidth":1.5},
"layer":[
{"data":{"name":"bO"},"mark":{"type":"area","interpolate":"step","color":"#6b55a5","clip":true},"encoding":{"x":{"field":"L","type":"quantitative","scale":{"domain":[0,4],"nice":false,"zero":false},"axis":{"title":"intracellular ROS","titleColor":"#5aaa35","titleFontSize":17,"titlePadding":15,"values":[0,0.301,0.477,0.602,0.699,0.778,0.845,0.903,0.954,1,1.301,1.477,1.602,1.699,1.778,1.845,1.903,1.954,2,2.301,2.477,2.602,2.699,2.778,2.845,2.903,2.954,3,3.301,3.477,3.602,3.699,3.778,3.845,3.903,3.954,4],"tickCount":100,"labelOverlap":false,"labelExpr":"datum.value == 0 ? '10⁰' : datum.value == 1 ? '10¹' : datum.value == 2 ? '10²' : datum.value == 3 ? '10³' : datum.value == 4 ? '10⁴' : ''","labelFont":"Liberation Sans Narrow, Liberation Sans, sans-serif","labelFontSize":12,"labelColor":"#333333","tickSize":{"condition":{"test":"datum.value % 1 == 0","value":6},"value":3},"domain":false,"labelPadding":2}},
"y":{"field":"c","type":"quantitative","scale":{"domain":[-0.6,120.4],"nice":false,"zero":false},"axis":{"title":null,"values":[0,5,10,15,20,25,30,35,40,45,50,55,60,65,70,75,80,85,90,95,100,105,110,115,120],"tickCount":100,"labelOverlap":false,"labelExpr":"datum.value % 20 == 0 ? datum.label : ''","labelAngle":-90,"labelAlign":"center","labelBaseline":"bottom","labelFont":"Liberation Sans Narrow, Liberation Sans, sans-serif","labelFontSize":12,"labelColor":"#333333","tickSize":{"condition":{"test":"datum.value % 20 == 0","value":5},"value":3},"domain":false,"labelPadding":3}}}},
{"data":{"name":"bH"},"mark":{"type":"line","interpolate":"step","color":"#111111","strokeWidth":1.3,"clip":true},"encoding":{"x":{"field":"L","type":"quantitative"},"y":{"field":"c","type":"quantitative"}}},
{"data":{"name":"bW"},"mark":{"type":"line","interpolate":"step","color":"#e8242a","strokeWidth":1.3,"clip":true},"encoding":{"x":{"field":"L","type":"quantitative"},"y":{"field":"c","type":"quantitative"}}},
{"data":{"name":"bS"},"mark":{"type":"line","interpolate":"step","color":"#1d4f9c","strokeWidth":1.3,"clip":true},"encoding":{"x":{"field":"L","type":"quantitative"},"y":{"field":"c","type":"quantitative"}}},
{"data":{"values":[{}]},"mark":{"type":"rule","color":"black","strokeWidth":3},"encoding":{"x":{"datum":2.22,"type":"quantitative"},"x2":{"datum":2.62},"y":{"datum":113.5,"type":"quantitative"}}},
{"data":{"values":[{}]},"mark":{"type":"rule","color":"#e8242a","strokeWidth":3},"encoding":{"x":{"datum":2.22,"type":"quantitative"},"x2":{"datum":2.62},"y":{"datum":101.7,"type":"quantitative"}}},
{"data":{"values":[{}]},"mark":{"type":"rule","color":"#1d4f9c","strokeWidth":3},"encoding":{"x":{"datum":2.22,"type":"quantitative"},"x2":{"datum":2.62},"y":{"datum":86.7,"type":"quantitative"}}},
{"data":{"values":[{}]},"mark":{"type":"text","align":"left","baseline":"middle","fontSize":18},"encoding":{"x":{"datum":2.72,"type":"quantitative"},"y":{"datum":113.5,"type":"quantitative"},"text":{"value":"H₂DCF-DA"}}},
{"data":{"values":[{}]},"mark":{"type":"text","align":"left","baseline":"middle","fontSize":18},"encoding":{"x":{"datum":2.72,"type":"quantitative"},"y":{"datum":101.7,"type":"quantitative"},"text":{"value":"wild type"}}},
{"data":{"values":[{}]},"mark":{"type":"text","align":"left","baseline":"middle","fontSize":18,"fontStyle":"italic"},"encoding":{"x":{"datum":2.72,"type":"quantitative"},"y":{"datum":86.7,"type":"quantitative"},"text":{"value":"sod5Δ/Δ"}}},
{"data":{"values":[{}]},"mark":{"type":"text","align":"left","baseline":"middle","fontSize":18},"encoding":{"x":{"datum":2.72,"type":"quantitative"},"y":{"datum":75.2,"type":"quantitative"},"text":{"value":"overlay"}}},
{"data":{"values":[{}]},"mark":{"type":"text","align":"left","baseline":"middle","fontSize":18,"fontStyle":"italic"},"encoding":{"x":{"datum":2.72,"type":"quantitative"},"y":{"datum":65.6,"type":"quantitative"},"text":{"value":"sod5Δ/Δ"}}},
{"data":{"values":[{}]},"mark":{"type":"text","align":"left","baseline":"middle","fontSize":18},"encoding":{"x":{"datum":2.72,"type":"quantitative"},"y":{"datum":56,"type":"quantitative"},"text":{"value":"and wt"}}},
{"data":{"values":[{}]},"mark":{"type":"point","shape":"M0,-1 C0.05,-0.4 0.2,0.5 0.55,0.82 L-0.55,1 C-0.35,0.4 -0.15,-0.3 0,-1 Z","filled":true,"color":"#6b55a5","size":2025,"opacity":1},"encoding":{"x":{"datum":2.4,"type":"quantitative"},"y":{"datum":70,"type":"quantitative"}}},
{"data":{"values":[{}]},"mark":{"type":"text","align":"left","baseline":"middle","fontSize":18},"encoding":{"x":{"datum":0.04,"type":"quantitative"},"y":{"datum":113.5,"type":"quantitative"},"text":{"value":"40 min"}}},
{"data":{"values":[{}]},"mark":{"type":"text","align":"left","baseline":"middle","fontSize":18},"encoding":{"x":{"datum":-0.45,"type":"quantitative"},"y":{"datum":138,"type":"quantitative"},"text":{"value":"b"}}},
{"data":{"values":[{}]},"mark":{"type":"rule","color":"black","strokeWidth":1.3},"encoding":{"x":{"datum":-0.477,"type":"quantitative"},"y":{"datum":1.1,"type":"quantitative"},"y2":{"datum":105.5}}},
{"data":{"values":[{}]},"mark":{"type":"point","shape":"M-0.5,1L0,-1L0.5,1Z","filled":true,"color":"black","size":110,"opacity":1},"encoding":{"x":{"datum":-0.477,"type":"quantitative"},"y":{"datum":107.5,"type":"quantitative"}}},
{"data":{"values":[{}]},"mark":{"type":"rule","color":"#7cb84a","strokeWidth":1.6},"encoding":{"x":{"datum":0.015,"type":"quantitative"},"x2":{"datum":3.73},"y":{"datum":-12.4,"type":"quantitative"}}},
{"data":{"values":[{}]},"mark":{"type":"point","shape":"M-1,-0.55L1,0L-1,0.55Z","filled":true,"color":"#7cb84a","size":200,"opacity":1},"encoding":{"x":{"datum":3.78,"type":"quantitative"},"y":{"datum":-12.4,"type":"quantitative"}}}
]}
]}
]
}
